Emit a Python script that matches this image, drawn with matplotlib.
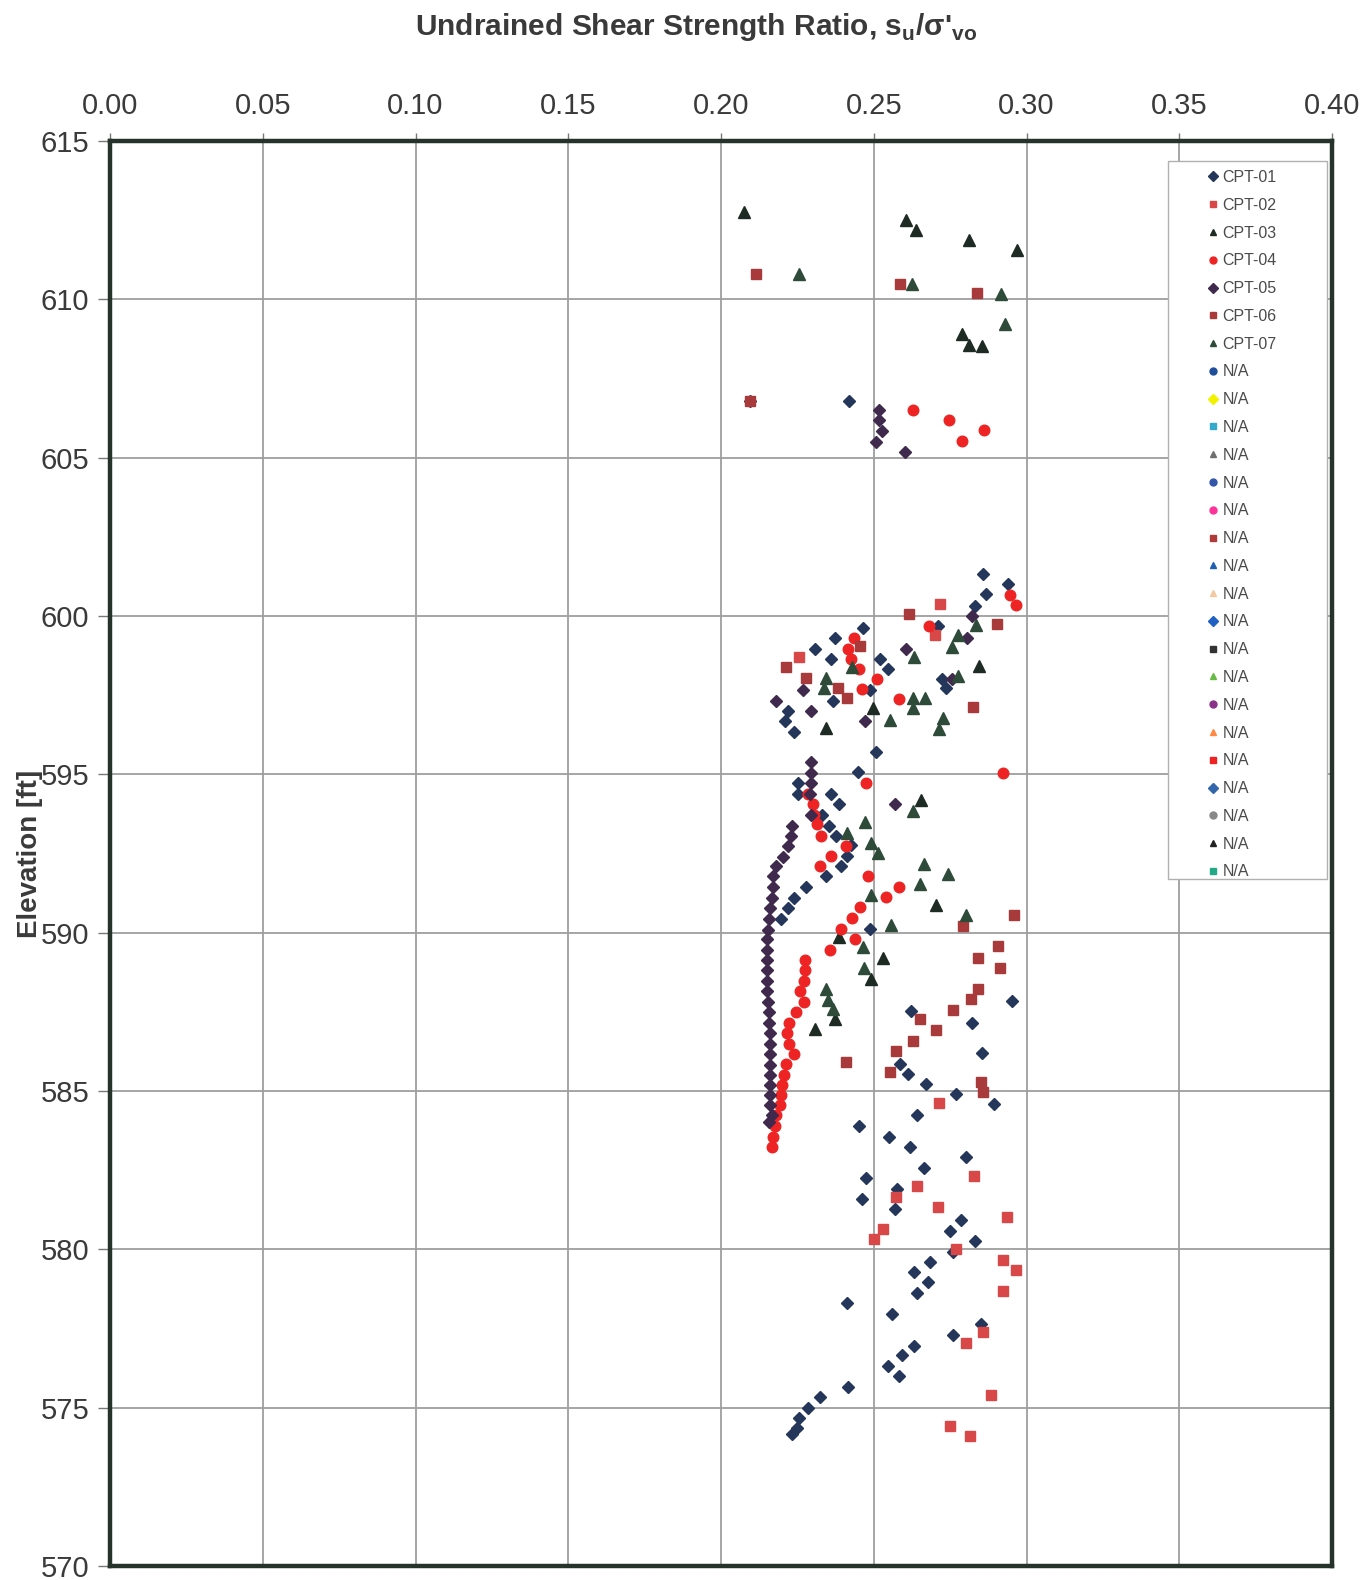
import matplotlib
matplotlib.use("Agg")
import matplotlib.pyplot as plt
from matplotlib.lines import Line2D
from matplotlib.patches import Rectangle
from matplotlib.ticker import FormatStrFormatter

plt.rcParams['font.family'] = ['Liberation Sans', 'DejaVu Sans']
plt.rcParams['mathtext.fontset'] = 'custom'
plt.rcParams['mathtext.rm'] = 'Liberation Sans'
plt.rcParams['mathtext.bf'] = 'Liberation Sans:bold'

# ---- CPT soundings: (su/sigma'vo, elevation ft) ----
cpt01_ratio = [0.2420, 0.2858, 0.2940, 0.2866, 0.2833, 0.2711, 0.2465, 0.2372, 0.2307, 0.2361,
               0.2520, 0.2547, 0.2722, 0.2738, 0.2487, 0.2365, 0.2220, 0.2210, 0.2240, 0.2507,
               0.2447, 0.2251, 0.2251, 0.2359, 0.2387, 0.2332, 0.2353, 0.2378, 0.2425, 0.2413,
               0.2394, 0.2345, 0.2278, 0.2239, 0.2220, 0.2195, 0.2489,
               0.2953, 0.2623, 0.2823, 0.2855, 0.2585, 0.2612, 0.2670, 0.2770, 0.2895, 0.2640,
               0.2452, 0.2550, 0.2618, 0.2801, 0.2663, 0.2474, 0.2577, 0.2460, 0.2571, 0.2787,
               0.2748, 0.2830, 0.2761, 0.2685, 0.2632, 0.2677, 0.2643, 0.2411, 0.2560, 0.2852,
               0.2759, 0.2631, 0.2594, 0.2547, 0.2583, 0.2416, 0.2324, 0.2285, 0.2255, 0.2249,
               0.2231]
cpt01_elev = [606.80, 601.32, 601.00, 600.69, 600.32, 599.68, 599.63, 599.32, 598.97, 598.65,
              598.65, 598.32, 598.02, 597.74, 597.66, 597.32, 597.00, 596.68, 596.35, 595.71,
              595.07, 594.74, 594.39, 594.37, 594.05, 593.71, 593.37, 593.05, 592.76, 592.42,
              592.10, 591.79, 591.44, 591.09, 590.78, 590.44, 590.13,
              587.83, 587.52, 587.16, 586.19, 585.84, 585.53, 585.21, 584.90, 584.58, 584.24,
              583.90, 583.56, 583.24, 582.92, 582.58, 582.26, 581.92, 581.60, 581.26, 580.94,
              580.58, 580.25, 579.92, 579.60, 579.28, 578.97, 578.62, 578.30, 577.97, 577.65,
              577.30, 576.96, 576.65, 576.33, 575.99, 575.66, 575.33, 574.99, 574.66, 574.35,
              574.17]

cpt02_ratio = [0.2716, 0.2701, 0.2256, 0.2713, 0.2827, 0.2641, 0.2574, 0.2710, 0.2936, 0.2530,
               0.2500, 0.2770, 0.2922, 0.2964, 0.2922, 0.2857, 0.2803, 0.2884, 0.2748, 0.2816]
cpt02_elev = [600.39, 599.39, 598.72, 584.61, 582.32, 581.99, 581.64, 581.34, 581.02, 580.65,
              580.32, 580.00, 579.67, 579.36, 578.70, 577.39, 577.04, 575.41, 574.41, 574.11]

cpt03_ratio = [0.2076, 0.2605, 0.2638, 0.2812, 0.2970, 0.2790, 0.2812, 0.2855, 0.2845, 0.2496,
               0.2345, 0.2656, 0.2705, 0.2387, 0.2530, 0.2492, 0.2373, 0.2307]
cpt03_elev = [612.77, 612.50, 612.19, 611.87, 611.55, 608.89, 608.57, 608.54, 598.42, 597.11,
              596.45, 594.19, 590.86, 589.86, 589.20, 588.53, 587.27, 586.95]

cpt04_ratio = [0.2629, 0.2747, 0.2861, 0.2788, 0.2947, 0.2967, 0.2681, 0.2435, 0.2416, 0.2425,
               0.2452, 0.2512, 0.2463, 0.2583, 0.2924, 0.2473, 0.2285, 0.2300, 0.2304, 0.2315,
               0.2326, 0.2408, 0.2359, 0.2324, 0.2481, 0.2583, 0.2539, 0.2454, 0.2430, 0.2394,
               0.2438, 0.2356, 0.2275, 0.2275, 0.2271, 0.2260, 0.2271, 0.2245, 0.2223, 0.2215,
               0.2223, 0.2239, 0.2212, 0.2207, 0.2201, 0.2198, 0.2193, 0.2180, 0.2176, 0.2169,
               0.2166]
cpt04_elev = [606.51, 606.20, 605.88, 605.53, 600.65, 600.34, 599.68, 599.32, 598.97, 598.65,
              598.34, 598.02, 597.69, 597.37, 595.05, 594.72, 594.39, 594.05, 593.72, 593.42,
              593.05, 592.74, 592.42, 592.10, 591.79, 591.44, 591.12, 590.81, 590.46, 590.13,
              589.79, 589.44, 589.13, 588.81, 588.47, 588.15, 587.82, 587.50, 587.16, 586.82,
              586.47, 586.16, 585.84, 585.50, 585.19, 584.87, 584.56, 584.24, 583.88, 583.56,
              583.24]

cpt05_ratio = [0.2094, 0.2516, 0.2516, 0.2527, 0.2508, 0.2603, 0.2820, 0.2804, 0.2607, 0.2755,
               0.2268, 0.2179, 0.2293, 0.2471, 0.2569, 0.2293, 0.2293, 0.2293, 0.2291, 0.2296,
               0.2231, 0.2228, 0.2220, 0.2202, 0.2180, 0.2171, 0.2171, 0.2166, 0.2162, 0.2158,
               0.2155, 0.2149, 0.2151, 0.2151, 0.2151, 0.2151, 0.2151, 0.2155, 0.2158, 0.2158,
               0.2160, 0.2160, 0.2160, 0.2160, 0.2160, 0.2160, 0.2160, 0.2160, 0.2166, 0.2158]
cpt05_elev = [606.80, 606.51, 606.20, 605.85, 605.51, 605.19, 600.00, 599.32, 598.97, 598.02,
              597.66, 597.32, 597.00, 596.68, 594.05, 595.39, 595.05, 594.74, 594.39, 593.71,
              593.37, 593.05, 592.74, 592.40, 592.10, 591.79, 591.44, 591.09, 590.78, 590.44,
              590.10, 589.79, 589.44, 589.13, 588.81, 588.47, 588.15, 587.82, 587.50, 587.16,
              586.82, 586.47, 586.16, 585.82, 585.50, 585.19, 584.87, 584.56, 584.24, 584.03]

cpt06_ratio = [0.2113, 0.2587, 0.2839, 0.2094, 0.2616, 0.2904, 0.2456, 0.2214, 0.2278, 0.2383,
               0.2413, 0.2825, 0.2958, 0.2792, 0.2906, 0.2841, 0.2912, 0.2841, 0.2819, 0.2759,
               0.2650, 0.2705, 0.2628, 0.2572, 0.2408, 0.2552, 0.2850, 0.2857]
cpt06_elev = [610.81, 610.49, 610.21, 606.80, 600.05, 599.74, 599.05, 598.40, 598.05, 597.74,
              597.42, 597.13, 590.55, 590.20, 589.57, 589.20, 588.89, 588.21, 587.90, 587.57,
              587.26, 586.93, 586.58, 586.25, 585.93, 585.61, 585.30, 584.96]

cpt07_ratio = [0.2255, 0.2624, 0.2915, 0.2928, 0.2834, 0.2777, 0.2757, 0.2632, 0.2430, 0.2343,
               0.2336, 0.2777, 0.2629, 0.2667, 0.2629, 0.2552, 0.2727, 0.2714, 0.2627, 0.2471,
               0.2414, 0.2492, 0.2514, 0.2663, 0.2743, 0.2650, 0.2492, 0.2801, 0.2558, 0.2465,
               0.2467, 0.2345, 0.2349, 0.2367]
cpt07_elev = [610.79, 610.49, 610.18, 609.21, 599.71, 599.39, 599.03, 598.72, 598.40, 598.05,
              597.74, 598.09, 597.42, 597.42, 597.08, 596.72, 596.79, 596.42, 593.84, 593.49,
              593.14, 592.83, 592.52, 592.17, 591.86, 591.54, 591.18, 590.55, 590.23, 589.55,
              588.87, 588.21, 587.86, 587.58]

series_labels = ["CPT-01", "CPT-02", "CPT-03", "CPT-04", "CPT-05", "CPT-06", "CPT-07"]

# placeholder series that carry no data but appear in the legend
na_markers = ['o', 'D', 's', '^', 'o', 'o', 's', '^', '^', 'D', 's', '^', 'o', '^', 's', 'D', 'o', '^', 's']
na_colors = ['#1f4e9a', '#f2f200', '#33aacc', '#6f6f6f', '#3355aa', '#ff3399', '#b03a3a', '#1f5fb0',
             '#f5c8a0', '#2060c0', '#333333', '#66bb44', '#883388', '#ff8844', '#ee2222', '#3366aa',
             '#888888', '#222222', '#22aa88']

x_ticks = [0.00, 0.05, 0.10, 0.15, 0.20, 0.25, 0.30, 0.35, 0.40]
y_ticks = [570, 575, 580, 585, 590, 595, 600, 605, 610, 615]

W, H = 1363, 1580
fig = plt.figure(figsize=(W / 100, H / 100), dpi=100)
ax_left, ax_top, ax_w, ax_h = 110, 141, 1222, 1425
ax = fig.add_axes([ax_left / W, 1 - (ax_top + ax_h) / H, ax_w / W, ax_h / H])

styles = [
    (cpt01_ratio, cpt01_elev, 'D', '#24365a', 6.3),
    (cpt02_ratio, cpt02_elev, 's', '#d84848', 7.2),
    (cpt03_ratio, cpt03_elev, '^', '#1e2a24', 8.2),
    (cpt04_ratio, cpt04_elev, 'o', '#ee2424', 7.6),
    (cpt05_ratio, cpt05_elev, 'D', '#3f2a4e', 6.3),
    (cpt06_ratio, cpt06_elev, 's', '#a83a3c', 7.2),
    (cpt07_ratio, cpt07_elev, '^', '#2e4a38', 8.2),
]
handles = []
for (xs, ys, m, c, ms), lab in zip(styles, series_labels):
    ax.plot(xs, ys, linestyle='none', marker=m, color=c, markersize=ms,
            markeredgecolor=c, zorder=3)
    handles.append(Line2D([], [], linestyle='none', marker=m, color=c,
                          markersize=5, label=lab))
for m, c in zip(na_markers, na_colors):
    handles.append(Line2D([], [], linestyle='none', marker=m, color=c,
                          markersize=5, label="N/A"))

ax.set_xlim(0, 0.40)
ax.set_ylim(570, 615)
ax.set_xticks(x_ticks)
ax.set_yticks(y_ticks)
ax.xaxis.set_major_formatter(FormatStrFormatter('%.2f'))
ax.xaxis.tick_top()
ax.tick_params(axis='x', which='both', top=True, bottom=False, length=6, width=1,
               color='#777777', labelsize=21, labelcolor='#3a3a3a', pad=9)
ax.tick_params(axis='y', length=9, width=1, color='#777777',
               labelsize=21, labelcolor='#3a3a3a', pad=6)
ax.grid(True, color='#9e9e9e', linewidth=1.3, zorder=0)
ax.set_axisbelow(True)
for sp in ax.spines.values():
    sp.set_linewidth(3.2)
    sp.set_color('#26332d')

ax.set_ylabel("Elevation [ft]", fontsize=20, fontweight='bold', color='#3a3a3a')
ax.yaxis.set_label_coords(-0.055, 0.5)

fig.text(696 / W, 1 - 27 / H,
         r"Undrained Shear Strength Ratio, s$_{\mathbf{u}}$/σ'$_{\mathbf{vo}}$",
         ha='center', va='center', fontsize=21.5, fontweight='bold', color='#3a3a3a')

# legend box with wide left margin
frame = Rectangle((1168 / W, 1 - 879 / H), 159 / W, 718 / H, transform=fig.transFigure,
                  facecolor='white', edgecolor='#b0b0b0', linewidth=1.0,
                  zorder=4, clip_on=False)
ax.add_patch(frame)
leg = ax.legend(handles=handles, loc='upper left',
                bbox_to_anchor=((1208 - ax_left) / ax_w, 1 - (170 - ax_top) / ax_h),
                borderaxespad=0, borderpad=0, fontsize=11.5, labelspacing=0.8,
                handlelength=0.6, handletextpad=0.3, frameon=False)
leg.set_zorder(5)
for t in leg.get_texts():
    t.set_color('#4a4a4a')

fig.savefig("out.png", dpi=100, facecolor='white')
